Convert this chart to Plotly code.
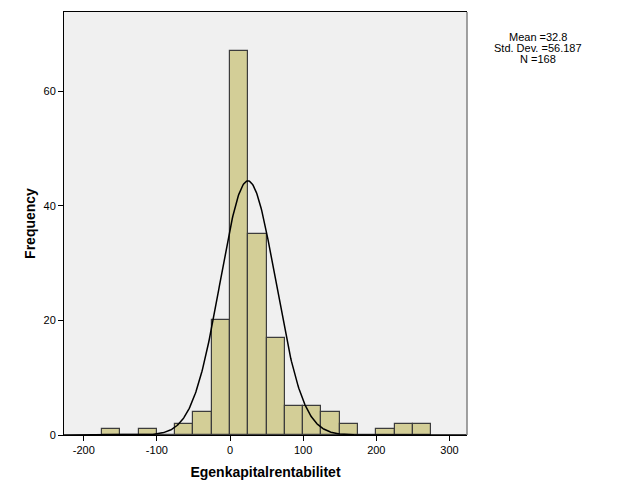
import numpy as np
import plotly.graph_objects as go

# Histogram bins (left edges, width 25) and counts
bin_left = [-175, -150, -125, -100, -75, -50, -25, 0, 25, 50, 75, 100, 125, 150, 175, 200, 225, 250]
counts = [1, 0, 1, 0, 2, 4, 20, 67, 35, 17, 5, 5, 4, 2, 0, 1, 2, 2]
bin_width = 25

# Normal curve parameters as drawn
curve_mean = 24.5
curve_sd = 37.8
n_total = 168

stats_lines = ["Mean =32.8", "Std. Dev. =56.187", "N =168"]
x_ticks = [-200, -100, 0, 100, 200, 300]
x_ticktext = ["-200", "-100", "0", "100", "200", "300"]
y_ticks = [0, 20, 40, 60]

centers = [b + bin_width / 2 for b in bin_left]

xs = np.linspace(-227, 324, 600)
ys = n_total * bin_width / (curve_sd * np.sqrt(2 * np.pi)) * np.exp(-0.5 * ((xs - curve_mean) / curve_sd) ** 2)

fig = go.Figure()
fig.add_trace(go.Bar(
    x=centers, y=counts, width=bin_width,
    marker=dict(color="rgb(211,206,151)", line=dict(color="rgb(60,60,60)", width=1.2)),
    hoverinfo="skip", showlegend=False,
))
fig.add_trace(go.Scatter(
    x=xs, y=ys, mode="lines", line=dict(color="black", width=1.5),
    hoverinfo="skip", showlegend=False,
))

font_family = "Arial, Liberation Sans, sans-serif"

fig.update_layout(
    width=627, height=502,
    margin=dict(l=64, r=160, t=12, b=67),
    paper_bgcolor="white",
    plot_bgcolor="rgb(240,240,240)",
    font=dict(family=font_family, size=11, color="black"),
    bargap=0,
    xaxis=dict(
        range=[-227, 324], tickvals=x_ticks, ticktext=x_ticktext, ticks="outside", ticklen=5,
        tickcolor="black", showgrid=False, zeroline=False,
        showline=True, linecolor="black", linewidth=1, mirror=True,
        title=dict(text="<b>Egenkapitalrentabilitet</b>", font=dict(size=14), standoff=11),
        tickfont=dict(size=11),
    ),
    yaxis=dict(
        range=[0, 73.8], tickvals=y_ticks, ticks="outside", ticklen=5,
        tickcolor="black", showgrid=False, zeroline=False,
        showline=True, linecolor="black", linewidth=1,
        title=dict(text="<b>Frequency</b>", font=dict(size=14), standoff=4),
        tickfont=dict(size=11),
    ),
)

fig.add_shape(type="line", xref="paper", yref="paper", x0=1, x1=1, y0=0, y1=1,
              line=dict(color="rgb(130,130,130)", width=1.5))

for i, line in enumerate(stats_lines):
    py = 37 + 11 * i
    fig.add_annotation(
        xref="paper", yref="paper", x=1.0 + (538 - 467) / 403, y=1 - (py - 12) / 423,
        text=line, showarrow=False, align="center",
        xanchor="center", yanchor="middle", font=dict(size=11, family=font_family),
    )

fig.write_html("out.html")
